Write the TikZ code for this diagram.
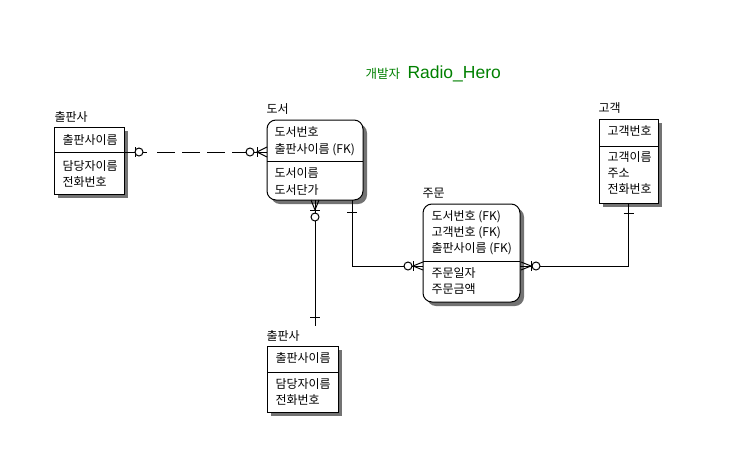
\documentclass[tikz,border=0pt]{standalone}
\usepackage{fontspec}
\setmainfont{Noto Sans CJK KR}
\newfontfamily\latfont{Liberation Sans}
\usetikzlibrary{shadows,calc}
\definecolor{devgreen}{RGB}{0,128,0}
\begin{document}
\begin{tikzpicture}[x=1pt,y=-1pt,line width=1pt,
  ebox/.style={draw,fill=white,inner sep=0pt,outer sep=0pt,
    drop shadow={shadow xshift=4pt,shadow yshift=-4pt,fill=black!55,opacity=1}},
  dbox/.style={ebox,rounded corners=9pt},
  lbl/.style={anchor=base west,inner sep=0pt,outer sep=0pt,font=\fontsize{12}{13}\selectfont},
  opt/.style={draw,fill=white,line width=1pt},
  dashline/.style={dash pattern=on 4pt off 10pt on 18pt off 7pt on 18pt off 7pt on 18pt off 7pt on 14pt off 200pt}]
\useasboundingbox (0,0) rectangle (752,458);

% title
\node[anchor=base west,inner sep=0pt,text=devgreen,font=\fontsize{12.5}{13}\selectfont] (t1) at (365,78.5) {개발자};
\node[anchor=base west,inner sep=0pt,text=devgreen,font=\latfont\fontsize{17.5}{18}\selectfont] (t2) at (407,78) {Radio\_Hero};

% entity boxes
\node[ebox,minimum width=70pt,minimum height=67pt] (pubL) at (89,160.5) {};
\node[dbox,minimum width=96pt,minimum height=80pt] (doseo) at (315,160) {};
\node[ebox,minimum width=59pt,minimum height=84pt] (gogaek) at (628.5,161) {};
\node[dbox,minimum width=97pt,minimum height=98pt] (jumun) at (471.5,253) {};
\node[ebox,minimum width=71pt,minimum height=66pt] (pubB) at (302.5,379) {};

% dividers
\draw ($(pubL.north west)+(0,25)$) -- ($(pubL.north east)+(0,25)$);
\draw ($(doseo.north west)+(0,41)$) -- ($(doseo.north east)+(0,41)$);
\draw ($(gogaek.north west)+(0,27)$) -- ($(gogaek.north east)+(0,27)$);
\draw ($(jumun.north west)+(0,57)$) -- ($(jumun.north east)+(0,57)$);
\draw ($(pubB.north west)+(0,26)$) -- ($(pubB.north east)+(0,26)$);

% titles of entities
\node[lbl] (hL) at (54.5,121.5) {출판사};
\node[lbl] (hD) at (266.5,113.5) {도서};
\node[lbl] (hG) at (598.5,112.5) {고객};
\node[lbl] (hJ) at (422.5,197.5) {주문};
\node[lbl] (hB) at (266.5,340.5) {출판사};

% attributes
\node[lbl] (l1) at (62.5,144.5) {출판사이름};
\node[lbl] (l2) at (62.5,170.5) {담당자이름};
\node[lbl] (l3) at (62.5,186) {전화번호};

\node[lbl] (d1) at (274.5,136.5) {도서번호};
\node[lbl] (d2) at (274.5,153.5) {출판사이름 (FK)};
\node[lbl] (d3) at (274.5,177.5) {도서이름};
\node[lbl] (d4) at (274.5,194.5) {도서단가};

\node[lbl] (g1) at (607.5,135.5) {고객번호};
\node[lbl] (g2) at (607.5,161.5) {고객이름};
\node[lbl] (g3) at (607.5,177.5) {주소};
\node[lbl] (g4) at (607.5,193.5) {전화번호};

\node[lbl] (j1) at (431.5,220.5) {도서번호 (FK)};
\node[lbl] (j2) at (431.5,236.5) {고객번호 (FK)};
\node[lbl] (j3) at (431.5,252.5) {출판사이름 (FK)};
\node[lbl] (j4) at (431.5,277.5) {주문일자};
\node[lbl] (j5) at (431.5,293.5) {주문금액};

\node[lbl] (b1) at (275.5,362.5) {출판사이름};
\node[lbl] (b2) at (275.5,388) {담당자이름};
\node[lbl] (b3) at (275.5,404.5) {전화번호};

% connector 1: 출판사 -- 도서 (dashed, non-identifying)
\coordinate (a1) at ($(pubL.north east)+(0,25)$);   % (124,152)
\coordinate (e1) at ($(doseo.north west)+(0,32)$);  % (267,152)
\draw (a1) -- ($(a1)+(11,0)$);
\draw ($(a1)+(11,-5)$) -- ($(a1)+(11,5)$);
\draw[opt] ($(a1)+(15,0)$) circle (4);
\draw[dashline] ($(a1)+(19,0)$) -- ($(e1)+(-21,0)$);
\draw[opt] ($(e1)+(-17,0)$) circle (4);
\draw ($(e1)+(-13,0)$) -- (e1);
\draw ($(e1)+(-10,-5)$) -- ($(e1)+(-10,5)$);
\draw ($(e1)+(0,-5)$) -- ($(e1)+(-10,0)$) -- ($(e1)+(0,5)$);

% connector 2: 도서 -- 출판사 (bottom)
\coordinate (a2) at (doseo.south);                  % (315,200)
\coordinate (e2) at ($(a2)+(0,126)$);               % (315,326)
\draw ($(a2)+(-4,0)$) -- ($(a2)+(0,10)$) -- ($(a2)+(4,0)$);
\draw (a2) -- ($(a2)+(0,13)$);
\draw ($(a2)+(-5,10)$) -- ($(a2)+(5,10)$);
\draw[opt] ($(a2)+(0,17)$) circle (4);
\draw ($(a2)+(0,21)$) -- (e2);
\draw ($(e2)+(-5,-9)$) -- ($(e2)+(5,-9)$);

% connector 3: 도서 -- 주문
\coordinate (a3) at ($(doseo.south)+(37,0)$);       % (352,200)
\coordinate (e3) at ($(jumun.north west)+(0,62)$);  % (423,266)
\draw (a3) -- (a3 |- e3) -- ($(e3)+(-19,0)$);
\draw ($(a3)+(-5,12)$) -- ($(a3)+(5,12)$);
\draw[opt] ($(e3)+(-15,0)$) circle (4);
\draw ($(e3)+(-11,0)$) -- (e3);
\draw ($(e3)+(-10,-5)$) -- ($(e3)+(-10,5)$);
\draw ($(e3)+(0,-4)$) -- ($(e3)+(-10,0)$) -- ($(e3)+(0,4)$);

% connector 4: 주문 -- 고객
\coordinate (a4) at ($(jumun.north east)+(0,62)$);  % (520,266)
\coordinate (e4) at (gogaek.south);                 % (628.5,203)
\draw ($(a4)+(1,-4)$) -- ($(a4)+(11,0)$) -- ($(a4)+(1,4)$);
\draw (a4) -- ($(a4)+(12,0)$);
\draw ($(a4)+(11,-5)$) -- ($(a4)+(11,5)$);
\draw[opt] ($(a4)+(16,0)$) circle (4);
\draw ($(a4)+(20,0)$) -- (e4 |- a4) -- (e4);
\draw ($(e4)+(-5,10)$) -- ($(e4)+(5,10)$);
\end{tikzpicture}
\end{document}
